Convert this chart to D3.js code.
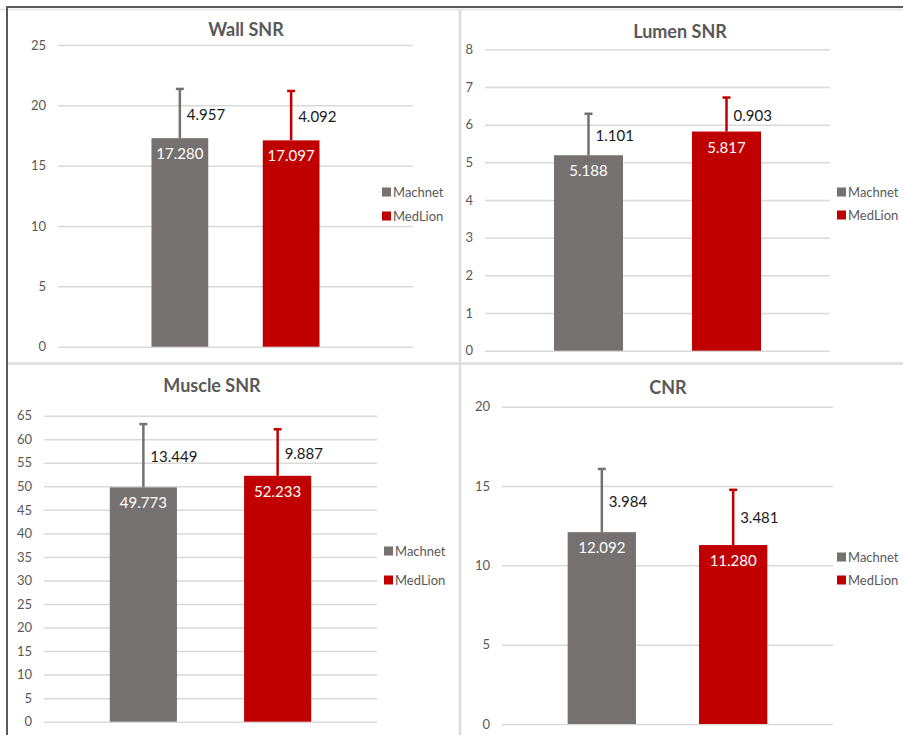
<!DOCTYPE html>
<html>
<head>
<meta charset="utf-8">
<script src="https://cdn.jsdelivr.net/npm/d3@7/dist/d3.min.js"></script>
<style>
  html, body { margin: 0; padding: 0; background: #fff; }
  svg { display: block; font-family: Lato, "Open Sans", sans-serif; }
</style>
</head>
<body>
<svg id="chart" width="903" height="735"></svg>
<script>
// ---- data ----
const panelTitles = ["Wall SNR", "Lumen SNR", "Muscle SNR", "CNR"];
const seriesNames = ["Machnet", "MedLion"];
const machnetMeans = [17.280, 5.188, 49.773, 12.092];
const medlionMeans = [17.097, 5.817, 52.233, 11.280];
// SD values as printed in the labels
const machnetSD = [4.957, 1.101, 13.449, 3.984];
const medlionSD = [4.092, 0.903, 9.887, 3.481];
// error-bar lengths as drawn in the picture (Wall SNR Machnet bar is drawn shorter than its label)
const machnetErrDrawn = [4.08, 1.101, 13.449, 3.984];
const medlionErrDrawn = [4.092, 0.903, 9.887, 3.481];
const axisMax = [25, 8, 65, 20];
const axisStep = [5, 1, 5, 5];

// ---- layout (positions only) ----
const layout = [
  { x0: 58,  x1: 413, yTop: 45,    yBot: 346.7, pIn: 0.49, pOut: 0.84, titleX: 246, titleY: 36,  legX: 382, legY: [192, 216] },
  { x0: 485, x1: 830, yTop: 49.3,  yBot: 350.7, pIn: 0.50, pOut: 0.50, titleX: 680, titleY: 38,  legX: 837, legY: [192, 215] },
  { x0: 44,  x1: 377, yTop: 415.7, yBot: 721.7, pIn: 0.50, pOut: 0.49, titleX: 212, titleY: 392, legX: 384, legY: [551, 580] },
  { x0: 502, x1: 833, yTop: 406.7, yBot: 724,   pIn: 0.48, pOut: 0.50, titleX: 668, titleY: 394, legX: 837, legY: [557, 580] }
];
const colors = d3.scaleOrdinal().domain(seriesNames).range(["#767171", "#C00000"]);

const svg = d3.select("#chart");

// frame & separators
svg.append("line").attr("x1", 0).attr("x2", 903).attr("y1", 9.5).attr("y2", 9.5).attr("stroke", "#e2e2e2").attr("stroke-width", 1.5);
svg.append("line").attr("x1", 460).attr("x2", 460).attr("y1", 9).attr("y2", 735).attr("stroke", "#dcdcdc").attr("stroke-width", 2.5);
svg.append("line").attr("x1", 7).attr("x2", 903).attr("y1", 363.5).attr("y2", 363.5).attr("stroke", "#dcdcdc").attr("stroke-width", 2.5);
svg.append("line").attr("x1", 6).attr("x2", 903).attr("y1", 7).attr("y2", 7).attr("stroke", "#5a5a5a").attr("stroke-width", 2);
svg.append("line").attr("x1", 7).attr("x2", 7).attr("y1", 6).attr("y2", 735).attr("stroke", "#5a5a5a").attr("stroke-width", 2);

panelTitles.forEach((title, i) => {
  const L = layout[i];
  const g = svg.append("g");
  const y = d3.scaleLinear().domain([0, axisMax[i]]).range([L.yBot, L.yTop]);
  const x = d3.scaleBand().domain(seriesNames).range([L.x0, L.x1])
    .paddingInner(L.pIn).paddingOuter(L.pOut);

  const ticks = d3.range(0, axisMax[i] + axisStep[i] / 2, axisStep[i]);
  const axis = d3.axisLeft(y).tickValues(ticks).tickSizeInner(-(L.x1 - L.x0)).tickSizeOuter(0).tickPadding(12).tickFormat(d3.format("d"));
  const ax = g.append("g").attr("transform", `translate(${L.x0},0)`).call(axis);
  ax.select(".domain").remove();
  ax.selectAll(".tick line").attr("stroke", "#d9d9d9").attr("stroke-width", 1.5);
  ax.selectAll(".tick text").attr("fill", "#595959").attr("font-size", 13).attr("font-family", "Lato, sans-serif");

  const rows = seriesNames.map((s, k) => ({
    s,
    mean: k === 0 ? machnetMeans[i] : medlionMeans[i],
    sd: k === 0 ? machnetSD[i] : medlionSD[i],
    err: k === 0 ? machnetErrDrawn[i] : medlionErrDrawn[i]
  }));

  // bars
  g.selectAll("rect.bar").data(rows).enter().append("rect")
    .attr("x", d => x(d.s)).attr("width", x.bandwidth())
    .attr("y", d => y(d.mean)).attr("height", d => y(0) - y(d.mean))
    .attr("fill", d => colors(d.s));

  // error bars
  const cx = d => x(d.s) + x.bandwidth() / 2;
  g.selectAll("line.err").data(rows).enter().append("line")
    .attr("x1", cx).attr("x2", cx)
    .attr("y1", d => y(d.mean)).attr("y2", d => y(d.mean + d.err))
    .attr("stroke", d => colors(d.s)).attr("stroke-width", 2.5);
  g.selectAll("line.cap").data(rows).enter().append("line")
    .attr("x1", d => cx(d) - 4).attr("x2", d => cx(d) + 4)
    .attr("y1", d => y(d.mean + d.err)).attr("y2", d => y(d.mean + d.err))
    .attr("stroke", d => colors(d.s)).attr("stroke-width", 2.5);

  // SD labels
  g.selectAll("text.sd").data(rows).enter().append("text")
    .attr("x", d => cx(d) + 7)
    .attr("y", d => (y(d.mean) + y(d.mean + d.err)) / 2 + 6)
    .attr("font-size", 15).attr("fill", "#1a1a1a")
    .text(d => d.sd.toFixed(3));

  // mean labels
  g.selectAll("text.mean").data(rows).enter().append("text")
    .attr("x", cx).attr("y", d => y(d.mean) + 21)
    .attr("text-anchor", "middle").attr("font-size", 15).attr("fill", "#ffffff")
    .text(d => d.mean.toFixed(3));

  // title
  g.append("text").attr("x", L.titleX).attr("y", L.titleY)
    .attr("text-anchor", "middle").attr("font-size", 18).attr("font-weight", "bold")
    .attr("fill", "#595959").text(title);

  // legend
  seriesNames.forEach((s, k) => {
    g.append("rect").attr("x", L.legX).attr("y", L.legY[k] - 4.5).attr("width", 9).attr("height", 9).attr("fill", colors(s));
    g.append("text").attr("x", L.legX + 11).attr("y", L.legY[k] + 4.5)
      .attr("font-size", 13).attr("fill", "#595959").text(s);
  });
});
</script>
</body>
</html>
